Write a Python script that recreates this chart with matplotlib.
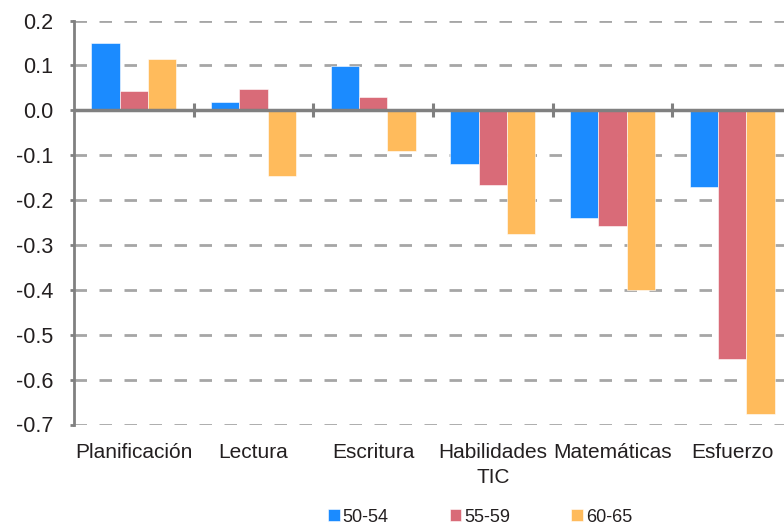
import numpy as np
from matplotlib import pyplot as plt

plt.rcParams['font.family'] = ['Liberation Sans', 'DejaVu Sans']
plt.rcParams['lines.scale_dashes'] = False

categories = ["Planificación", "Lectura", "Escritura", "Habilidades\nTIC", "Matemáticas", "Esfuerzo"]
groups = ["50-54", "55-59", "60-65"]
vals_50_54 = [0.150, 0.018, 0.098, -0.119, -0.240, -0.171]
vals_55_59 = [0.042, 0.047, 0.030, -0.166, -0.257, -0.555]
vals_60_65 = [0.115, -0.147, -0.091, -0.275, -0.400, -0.676]
yticks = [-0.7, -0.6, -0.5, -0.4, -0.3, -0.2, -0.1, 0.0, 0.1, 0.2]
colors = ["#1b8bff", "#d96b78", "#ffbb5c"]

text_col = "#231f20"
axis_col = "#808080"
grid_col = "#a6a6a6"

fig = plt.figure(figsize=(7.84, 5.25), dpi=100)
ax = fig.add_axes([74 / 784, 1 - 424.5 / 525, 718 / 784, 404 / 525])

x = np.arange(len(categories))
w = 0.237
for i, (vals, lab, col) in enumerate(zip([vals_50_54, vals_55_59, vals_60_65], groups, colors)):
    ax.bar(x + (i - 1) * w, vals, width=w, color=col, label=lab,
           edgecolor="white", linewidth=0.4, zorder=3)

ax.set_xlim(-0.5, len(categories) - 0.5)
ax.set_ylim(-0.7, 0.2)
ax.set_yticks(yticks)
ax.set_yticklabels([f"{v:.1f}" for v in yticks])
ax.yaxis.grid(True, color=grid_col, linewidth=2, linestyle=(0, (9, 9)), zorder=1)
ax.set_axisbelow(True)

for s in ["top", "right", "bottom"]:
    ax.spines[s].set_visible(False)
ax.spines["left"].set_color(axis_col)
ax.spines["left"].set_linewidth(2)

ax.set_xticks(x)
ax.set_xticklabels(categories, fontsize=15, color=text_col, linespacing=1.4)
ax.tick_params(axis="x", length=0, pad=13)
ax.tick_params(axis="y", length=3, width=2, color=axis_col, labelsize=15.5,
               labelcolor=text_col, pad=12)

# zero line with group separators
ax.axhline(0, color=axis_col, linewidth=2.5, zorder=4)
bounds = x[:-1] + 0.5
ax.plot(bounds, np.zeros_like(bounds), linestyle="none", marker="|",
        markersize=10.5, markeredgewidth=2.2, color=axis_col, zorder=4, clip_on=False)

handles, labels = ax.get_legend_handles_labels()
fig.legend(handles, labels, loc="center", bbox_to_anchor=(480 / 784, 1 - 517 / 525),
           ncol=3, frameon=False, fontsize=13, handlelength=0.65, handleheight=0.65,
           handletextpad=0.15, columnspacing=3.4, labelcolor=text_col)

plt.savefig("out.png", dpi=100)
